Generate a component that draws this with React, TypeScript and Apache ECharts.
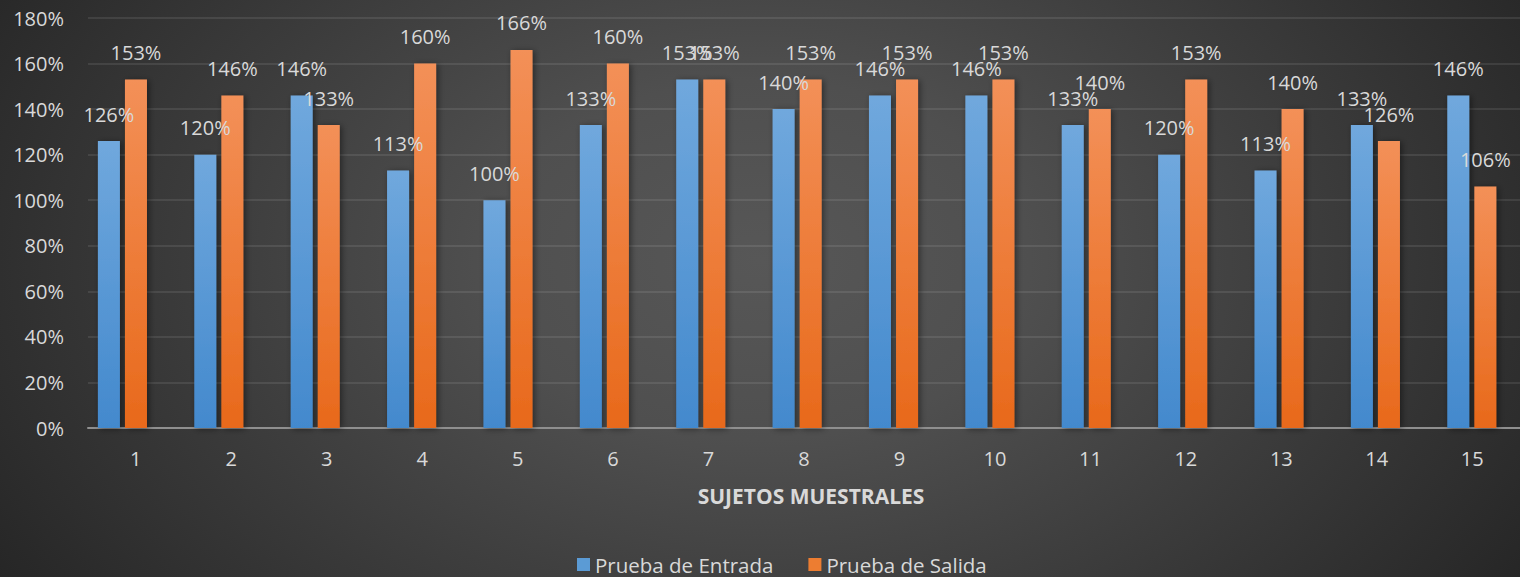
import React, { useEffect, useRef } from "react";
import * as echarts from "echarts";

const categories = ["1", "2", "3", "4", "5", "6", "7", "8", "9", "10", "11", "12", "13", "14", "15"];
const entrada = [126, 120, 146, 113, 100, 133, 153, 140, 146, 146, 133, 120, 113, 133, 146];
const salida = [153, 146, 133, 160, 166, 160, 153, 153, 153, 153, 140, 153, 140, 126, 106];
const seriesNames = ["Prueba de Entrada", "Prueba de Salida"];
const axisTitle = "SUJETOS MUESTRALES";

const FONT = "'Open Sans', 'Noto Sans', sans-serif";
const TEXT = "#d9d9d9";

export default function App() {
  const ref = useRef<HTMLDivElement>(null);
  useEffect(() => {
    if (!ref.current) return;
    const chart = echarts.init(ref.current, null, { renderer: "svg" });
    const grad = (top: string, bottom: string) =>
      new echarts.graphic.LinearGradient(0, 0, 0, 1, [
        { offset: 0, color: top },
        { offset: 1, color: bottom },
      ]);
    const label = {
      show: true,
      position: "top",
      distance: 17,
      color: TEXT,
      fontFamily: FONT,
      fontSize: 20,
      formatter: (p: any) => p.value + "%",
    };
    chart.setOption({
      animation: false,
      backgroundColor: "transparent",
      textStyle: { fontFamily: FONT },
      grid: [
        { left: 88, top: 18, width: 1447, height: 410 },
        { left: 74.25, top: 18, width: 1447.5, height: 410 },
      ],
      xAxis: [
        {
          type: "category",
          gridIndex: 0,
          data: categories,
          axisLine: { show: true, lineStyle: { color: "#8f8f8f", width: 2 } },
          axisTick: { show: false },
          axisLabel: { color: TEXT, fontSize: 20, fontFamily: FONT, margin: 20 },
        },
        {
          type: "category",
          gridIndex: 1,
          data: categories,
          show: false,
        },
      ],
      yAxis: [
        {
          type: "value",
          gridIndex: 0,
          min: 0,
          max: 180,
          interval: 20,
          axisLine: { show: false },
          axisTick: { show: false },
          axisLabel: { color: TEXT, fontSize: 20, fontFamily: FONT, margin: 24, formatter: "{value}%" },
          splitLine: { lineStyle: { color: "rgba(255,255,255,0.09)", width: 2 } },
        },
        {
          type: "value",
          gridIndex: 1,
          min: 0,
          max: 180,
          interval: 20,
          show: false,
          splitLine: { show: false },
        },
      ],
      legend: {
        left: 577,
        top: 554,
        itemWidth: 13,
        itemHeight: 13,
        itemGap: 35,
        icon: "rect",
        padding: 0,
        textStyle: { color: TEXT, fontSize: 20.5, fontFamily: FONT, lineHeight: 20 },
        data: [
          { name: seriesNames[0], itemStyle: { color: "#5b9bd5" } },
          { name: seriesNames[1], itemStyle: { color: "#ed7d31" } },
        ],
      },
      graphic: [
        {
          type: "text",
          x: 811,
          y: 496,
          style: {
            text: axisTitle,
            fill: TEXT,
            font: `bold 21px ${FONT}`,
            textAlign: "center",
            textVerticalAlign: "middle",
          },
        },
      ],
      series: [
        {
          name: seriesNames[0],
          type: "bar",
          xAxisIndex: 1,
          yAxisIndex: 1,
          data: entrada,
          barWidth: 22,
          barGap: "23%",
          itemStyle: {
            color: grad("#70a8dd", "#4389cd"),
            shadowColor: "rgba(0,0,0,0.45)",
            shadowBlur: 6,
            shadowOffsetX: 2,
            shadowOffsetY: 1,
          },
          label,
        },
        {
          name: seriesNames[1],
          type: "bar",
          xAxisIndex: 1,
          yAxisIndex: 1,
          data: salida,
          barWidth: 22,
          barGap: "23%",
          itemStyle: {
            color: grad("#f39058", "#e8691b"),
            shadowColor: "rgba(0,0,0,0.45)",
            shadowBlur: 6,
            shadowOffsetX: 2,
            shadowOffsetY: 1,
          },
          label,
        },
      ],
    });
    return () => chart.dispose();
  }, []);
  return (
    <div
      style={{
        position: "absolute",
        left: 0,
        top: 0,
        width: 1520,
        height: 577,
        overflow: "hidden",
        background:
          "radial-gradient(ellipse 900px 600px at 50% 45%, #575757 0%, #4f4f4f 30%, #262626 100%)",
      }}
    >
      <div ref={ref} style={{ width: 1520, height: 577 }} />
    </div>
  );
}
